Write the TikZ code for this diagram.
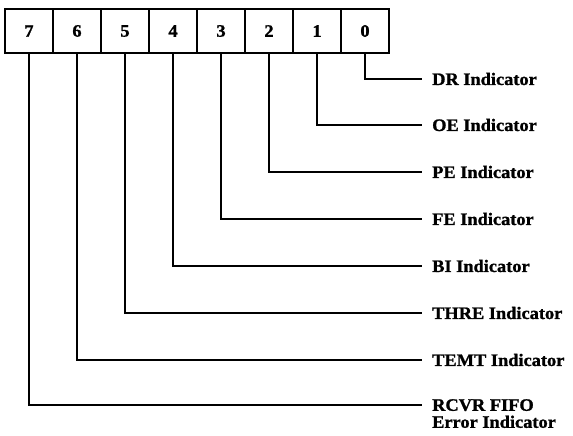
\documentclass[tikz,border=0pt]{standalone}
\usepackage{fontspec}
\setmainfont{Liberation Serif}[FakeStretch=1.05, FakeBold=1.2]
\usetikzlibrary{positioning}

\tikzset{
  bitcell/.style={draw, line width=1.6pt, minimum width=48pt, minimum height=44pt,
    inner sep=0pt, outer sep=0pt, font=\fontsize{17.5}{18}\selectfont\bfseries},
  indicator/.style={inner sep=0pt, font=\fontsize{17.5}{17}\selectfont\bfseries, align=left},
  leader/.style={line width=1.7pt},
}

\begin{document}
\begin{tikzpicture}[x=1pt, y=-1pt]
    \useasboundingbox (0,0) rectangle (573,436);
    \node[bitcell] (b7) at (29,31) {7};
    \node[bitcell, right=0pt of b7] (b6) {6};
    \node[bitcell, right=0pt of b6] (b5) {5};
    \node[bitcell, right=0pt of b5] (b4) {4};
    \node[bitcell, right=0pt of b4] (b3) {3};
    \node[bitcell, right=0pt of b3] (b2) {2};
    \node[bitcell, right=0pt of b2] (b1) {1};
    \node[bitcell, right=0pt of b1] (b0) {0};

    \coordinate (e0) at (422,79);
    \coordinate (e1) at (422,125);
    \coordinate (e2) at (422,172);
    \coordinate (e3) at (422,219);
    \coordinate (e4) at (422,266);
    \coordinate (e5) at (422,313);
    \coordinate (e6) at (422,360);
    \coordinate (e7) at (422,405);

    \node[indicator, right=10pt of e0] (dr) {DR Indicator};
    \node[indicator, right=10pt of e1] (oe) {OE Indicator};
    \node[indicator, right=10pt of e2] (pe) {PE Indicator};
    \node[indicator, right=10pt of e3] (fe) {FE Indicator};
    \node[indicator, right=10pt of e4] (bi) {BI Indicator};
    \node[indicator, right=10pt of e5] (thre) {THRE Indicator};
    \node[indicator, right=10pt of e6] (temt) {TEMT Indicator};
    \node[indicator, anchor=north west] (rcvr) at ([xshift=10pt, yshift=6pt]e7) {RCVR FIFO\\Error Indicator};

    % Connect the bits
    \draw[leader] (b0.south) |- (e0); %
    \draw[leader] (b1.south) |- (e1); %
    \draw[leader] (b2.south) |- (e2); %
    \draw[leader] (b3.south) |- (e3); %
    \draw[leader] (b4.south) |- (e4); %
    \draw[leader] (b5.south) |- (e5); %
    \draw[leader] (b6.south) |- (e6); %
    \draw[leader] (b7.south) |- (e7); %
\end{tikzpicture}
\end{document}
